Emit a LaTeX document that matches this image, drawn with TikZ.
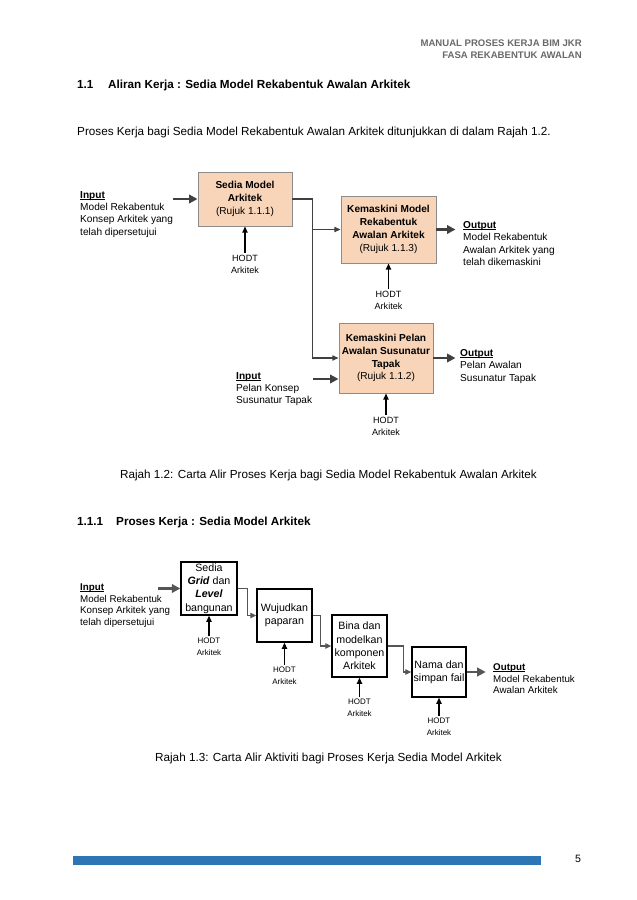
\documentclass[tikz,border=0pt]{standalone}
\usepackage{fontspec}
\setmainfont{Liberation Sans}
\usetikzlibrary{arrows.meta}

\definecolor{peach}{RGB}{248,212,184}
\definecolor{boxgray}{RGB}{140,140,140}
\definecolor{arrowgray}{RGB}{64,64,64}
\definecolor{linkgray}{RGB}{85,85,85}
\definecolor{headgray}{RGB}{105,105,105}
\definecolor{barblue}{RGB}{46,117,182}

% one pixel of the page
\newcommand{\pu}{0.3302mm}
% underline that sits close to the baseline
\newcommand{\ulword}[1]{\setbox0=\hbox{#1}\hbox{\rlap{\rule[-1.3pt]{\wd0}{0.6pt}}\box0}}

\tikzset{
	pagetext/.style = {inner sep = 0, font = \fontsize{11}{13}\selectfont},
	flowtext/.style = {inner sep = 0, align = left, font = \fontsize{9.5}{11.5}\selectfont},
	acttext/.style = {inner sep = 0, align = left, font = \fontsize{9.2}{11}\selectfont},
	hodt/.style = {inner sep = 1.5pt, align = center, font = \fontsize{8.5}{11.2}\selectfont},
	hodtsmall/.style = {inner sep = 1.5pt, align = center, font = \fontsize{7.5}{11.2}\selectfont},
	procbox/.style = {draw = boxgray, fill = peach, line width = 0.9pt, align = center, inner sep = 1pt, font = \fontsize{9.5}{12}\selectfont},
	actbox/.style = {draw = black, line width = 1.3pt, align = center, inner sep = 1pt, font = \fontsize{10}{12.5}\selectfont},
	thickarrow/.style = {-{Triangle[length = 2.8mm, width = 2.8mm]}, line width = 2.3pt, color = arrowgray},
	link/.style = {-{Triangle[length = 2mm, width = 1.7mm]}, line width = 1.1pt, color = arrowgray},
	actlink/.style = {-{Triangle[length = 2mm, width = 1.8mm]}, line width = 1.3pt, color = linkgray},
	hodtarrow/.style = {-{Triangle[length = 2mm, width = 1.7mm]}, line width = 1.5pt, color = black}
}

\begin{document}
\begin{tikzpicture}[x = \pu, y = -\pu]
	\fill[white] (0,0) rectangle (636,900);
	\useasboundingbox (0,0) rectangle (636,900);

	% header
	\node[anchor = base east, inner sep = 0, text = headgray, font = \fontsize{9}{10}\selectfont\bfseries] (hdrA) at (582,46.3) {MANUAL PROSES KERJA BIM JKR};
	\node[anchor = base east, inner sep = 0, text = headgray, font = \fontsize{9}{10}\selectfont\bfseries] (hdrB) at (582,58.3) {FASA REKABENTUK AWALAN};

	% section 1.1
	\node[pagetext, anchor = base west, font = \fontsize{11}{13}\selectfont\bfseries] (secnum) at (77,88.2) {1.1};
	\node[pagetext, anchor = base west, font = \fontsize{11}{13}\selectfont\bfseries] (sectitle) at (108,88.2) {Aliran Kerja : Sedia Model Rekabentuk Awalan Arkitek};
	\node[pagetext, anchor = base west] (para) at (77,135.2) {Proses Kerja bagi Sedia Model Rekabentuk Awalan Arkitek ditunjukkan di dalam Rajah 1.2.};

	% Rajah 1.2
	\node[procbox, minimum width = 94*\pu, minimum height = 54*\pu] (A) at (245,199) {\textbf{Sedia Model}\\\textbf{Arkitek}\\(Rujuk 1.1.1)};
	\node[procbox, minimum width = 95*\pu, minimum height = 67*\pu] (B) at (388.5,229.5) {\textbf{Kemaskini Model}\\\textbf{Rekabentuk}\\\textbf{Awalan Arkitek}\\(Rujuk 1.1.3)};
	\node[procbox, minimum width = 94*\pu, minimum height = 70*\pu] (C) at (386,358) {\textbf{Kemaskini Pelan}\\\textbf{Awalan Susunatur}\\\textbf{Tapak}\\(Rujuk 1.1.2)};

	\node[flowtext, anchor = north west] (inAtxt) at (80,191.3) {\ulword{\textbf{Input}}\\Model Rekabentuk\\Konsep Arkitek yang\\telah dipersetujui};
	\node[flowtext, anchor = north west] (inCtxt) at (236,372.3) {\ulword{\textbf{Input}}\\Pelan Konsep\\Susunatur Tapak};
	\node[flowtext, anchor = north west] (outBtxt) at (463,221.3) {\ulword{\textbf{Output}}\\Model Rekabentuk\\Awalan Arkitek yang\\telah dikemaskini};
	\node[flowtext, anchor = north west] (outCtxt) at (460,349.3) {\ulword{\textbf{Output}}\\Pelan Awalan\\Susunatur Tapak};

	\node[hodt, anchor = north] (hodtA) at (245,253) {HODT\\Arkitek};
	\node[hodt, anchor = north] (hodtB) at (388.5,289) {HODT\\Arkitek};
	\node[hodt, anchor = north] (hodtC) at (386,415) {HODT\\Arkitek};

	\coordinate (inA) at (173,199);
	\coordinate (inC) at (313,379);
	\draw[thickarrow] (inA) -- (A.west);
	\draw[thickarrow] (inC) -- (inC -| C.west);
	\draw[thickarrow] (B.east) -- ++(19,0);
	\draw[thickarrow] (C.east) -- ++(22,0);
	\draw[link] (A.east) -- ++(20,0) coordinate (jn) |- (C.west);
	\draw[link] (jn |- B.west) -- (B.west);
	\foreach \p in {A,B,C}
		\draw[hodtarrow] (hodt\p.north) -- (\p.south);

	\node[pagetext, anchor = base] (capA) at (328.5,478.2) {Rajah 1.2: Carta Alir Proses Kerja bagi Sedia Model Rekabentuk Awalan Arkitek};

	% section 1.1.1
	\node[pagetext, anchor = base west, font = \fontsize{11}{13}\selectfont\bfseries] (subnum) at (77,525.2) {1.1.1};
	\node[pagetext, anchor = base west, font = \fontsize{11}{13}\selectfont\bfseries] (subtitle) at (116,525.2) {Proses Kerja : Sedia Model Arkitek};

	% Rajah 1.3
	\node[actbox, minimum width = 56*\pu, minimum height = 53*\pu] (b1) at (209,588.5) {Sedia\\\textbf{\textit{Grid}} dan\\\textbf{\textit{Level}}\\bangunan};
	\node[actbox, minimum width = 55*\pu, minimum height = 53*\pu] (b2) at (284.5,615.5) {Wujudkan\\paparan};
	\node[actbox, minimum width = 55*\pu, minimum height = 62*\pu] (b3) at (359.5,646) {Bina dan\\modelkan\\komponen\\Arkitek};
	\node[actbox, minimum width = 54*\pu, minimum height = 50*\pu] (b4) at (439,672) {Nama dan\\simpan fail};

	\node[acttext, anchor = north west] (in1txt) at (80,583.5) {\ulword{\textbf{Input}}\\Model Rekabentuk\\Konsep Arkitek yang\\telah dipersetujui};
	\node[acttext, anchor = north west] (out4txt) at (493,663.5) {\ulword{\textbf{Output}}\\Model Rekabentuk\\Awalan Arkitek};

	\node[hodtsmall, anchor = north] (hodt1) at (209,636) {HODT\\Arkitek};
	\node[hodtsmall, anchor = north] (hodt2) at (284.5,665) {HODT\\Arkitek};
	\node[hodtsmall, anchor = north] (hodt3) at (359.5,697) {HODT\\Arkitek};
	\node[hodtsmall, anchor = north] (hodt4) at (439,716) {HODT\\Arkitek};

	\coordinate (in1) at (158,588.5);
	\draw[thickarrow, color = linkgray, line width = 2pt] (in1) -- (b1.west);
	\draw[thickarrow, color = linkgray, line width = 2pt] (b4.east) -- ++(19,0);
	\draw[actlink] (b1.east) -- ++(10,0) |- (b2.west);
	\draw[actlink] (b2.east) -- ++(8,0) |- (b3.west);
	\draw[actlink] (b3.east) -- ++(16,0) |- (b4.west);
	\foreach \p in {1,2,3,4}
		\draw[hodtarrow] (hodt\p.north) -- (b\p.south);

	\node[pagetext, anchor = base] (capB) at (328.5,761.2) {Rajah 1.3: Carta Alir Aktiviti bagi Proses Kerja Sedia Model Arkitek};

	% footer
	\fill[barblue] (73,856) rectangle (541,865);
	\node[pagetext, anchor = base, font = \fontsize{10}{12}\selectfont] (pgnum) at (578,862) {5};
\end{tikzpicture}
\end{document}
